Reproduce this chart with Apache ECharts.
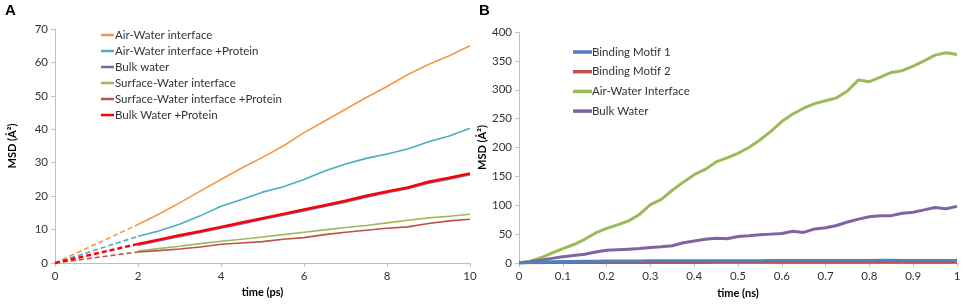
<!DOCTYPE html>
<html>
<head>
<meta charset="utf-8">
<script src="https://cdn.jsdelivr.net/npm/echarts@6/dist/echarts.min.js"></script>
<style>
html, body { margin: 0; padding: 0; background: #fff; }
#chart { width: 964px; height: 304px; }
</style>
</head>
<body>
<div id="chart"></div>
<script>
// ---- panel A: MSD vs time (ps) ----
var timeA = [2, 2.5, 3, 3.5, 4, 4.5, 5, 5.5, 6, 6.5, 7, 7.5, 8, 8.5, 9, 9.5, 10];
var airWater      = [11.5, 14.6, 18, 21.5, 25, 28.4, 31.6, 35, 39, 42.5, 46, 49.5, 52.8, 56.4, 59.4, 62, 65];
var airWaterProt  = [8, 9.6, 11.6, 14.1, 17, 19, 21.2, 22.8, 25, 27.5, 29.6, 31.3, 32.6, 34.1, 36.3, 38, 40.3];
var bulkWater     = [5.3, 6.6, 7.9, 9.1, 10.4, 11.7, 13, 14.3, 15.6, 16.9, 18.2, 19.7, 21, 22.2, 23.9, 25.1, 26.4];
var surfWater     = [3.6, 4.3, 5, 5.8, 6.5, 7.1, 7.8, 8.5, 9.2, 9.9, 10.6, 11.2, 12, 12.8, 13.5, 14, 14.6];
var surfWaterProt = [3.3, 3.7, 4.2, 4.8, 5.6, 6, 6.4, 7.1, 7.6, 8.5, 9.2, 9.8, 10.4, 10.8, 11.8, 12.6, 13.1];
var bulkWaterProt = [5.7, 7, 8.3, 9.5, 10.8, 12.1, 13.4, 14.7, 16, 17.3, 18.6, 20.1, 21.4, 22.6, 24.3, 25.5, 26.8];
var namesA = ['Air-Water interface', 'Air-Water interface +Protein', 'Bulk water',
              'Surface-Water interface', 'Surface-Water interface +Protein', 'Bulk Water +Protein'];
var colorsA = ['#F79646', '#4BACC6', '#8064A2', '#9BBB59', '#C0504D', '#FF0000'];

// ---- panel B: MSD vs time (ns) ----
var timeB = [0, 0.025, 0.05, 0.075, 0.1, 0.125, 0.15, 0.175, 0.2, 0.225, 0.25, 0.275, 0.3, 0.325,
             0.35, 0.375, 0.4, 0.425, 0.45, 0.475, 0.5, 0.525, 0.55, 0.575, 0.6, 0.625, 0.65, 0.675,
             0.7, 0.725, 0.75, 0.775, 0.8, 0.825, 0.85, 0.875, 0.9, 0.925, 0.95, 0.975, 1];
var motif1  = [0, 1, 1.6, 2, 2.4, 2.7, 3, 3.1, 3.3, 3.4, 3.5, 3.6, 3.7, 3.7, 3.8, 3.8, 3.9, 3.9, 4, 4, 4,
               4.1, 4.1, 4.2, 4.2, 4.3, 4.3, 4.4, 4.4, 4.4, 4.5, 4.5, 4.5, 4.6, 4.6, 4.5, 4.5, 4.4, 4.4, 4.3, 4.3];
var motif2  = [0, 0.4, 0.6, 0.7, 0.8, 0.8, 0.9, 0.9, 0.9, 1, 1, 1, 1, 1, 1, 1, 1, 1, 1.1, 1.1, 1.1,
               1.1, 1.1, 1.1, 1.1, 1.1, 1.1, 1.1, 1.1, 1.1, 1.1, 1.1, 1.1, 1.1, 1.1, 1.1, 1.1, 1.1, 1.1, 1.1, 1.1];
var airWaterB = [0, 3, 9, 17, 25, 32, 41, 52, 60, 66, 73, 84, 101, 110, 126, 140, 153, 162, 175, 182, 190,
                 200, 213, 228, 245, 258, 268, 276, 281, 286, 298, 317, 314, 322, 330, 333, 341, 350, 360, 364, 361];
var bulkWaterB = [0, 2, 5, 8, 11, 13, 15, 19, 22, 23, 24, 25, 27, 28, 30, 35, 38, 41, 43, 42, 46,
                  47, 49, 50, 51, 55, 53, 59, 61, 65, 71, 76, 80, 82, 82, 86, 88, 92, 96, 94, 98];
var namesB = ['Binding Motif 1', 'Binding Motif 2', 'Air-Water Interface', 'Bulk Water'];
var colorsB = ['#4F81BD', '#C0504D', '#9BBB59', '#8064A2'];

function pairs(xs, ys) {
    var out = [];
    for (var i = 0; i < xs.length; i++) out.push([xs[i], ys[i]]);
    return out;
}

var FONT = 'Lato';
var TXT = '#333333';
var AXIS = '#BFBFBF';

function axisCommon() {
    return {
        axisLine: { show: true, lineStyle: { color: AXIS, width: 1 } },
        axisTick: { show: true, length: 4, lineStyle: { color: AXIS } },
        axisLabel: { color: TXT, fontFamily: FONT, fontSize: 11.5, margin: 7 },
        splitLine: { show: false },
        nameTextStyle: { color: '#000', fontFamily: FONT, fontSize: 11, fontWeight: 'bold' }
    };
}

var seriesA = [airWater, airWaterProt, bulkWater, surfWater, surfWaterProt, bulkWaterProt];
var seriesBdata = [motif1, motif2, airWaterB, bulkWaterB];
var series = [];

// dashed lead-in from the origin to the first data point (2 ps)
[0, 1, 4, 5].forEach(function (k) {
    series.push({
        name: namesA[k] + ' (extrap)',
        type: 'line', xAxisIndex: 0, yAxisIndex: 0,
        symbol: 'none', silent: true,
        data: [[0, 0], [timeA[0], seriesA[k][0]]],
        lineStyle: { color: colorsA[k], width: k === 5 ? 2.5 : 1.6, type: [5, 3] },
        z: 2
    });
});
for (var k = 0; k < 6; k++) {
    series.push({
        name: namesA[k],
        type: 'line', xAxisIndex: 0, yAxisIndex: 0,
        symbol: 'none',
        data: pairs(timeA, seriesA[k]),
        color: colorsA[k],
        lineStyle: { color: colorsA[k], width: k === 5 ? 2.5 : 1.6 },
        z: 3
    });
}
for (k = 0; k < 4; k++) {
    series.push({
        name: namesB[k],
        type: 'line', xAxisIndex: 1, yAxisIndex: 1,
        symbol: 'none',
        data: pairs(timeB, seriesBdata[k]),
        color: colorsB[k],
        lineStyle: { color: colorsB[k], width: 3 },
        z: k < 2 ? 4 - k : 3
    });
}

var titleStyle = { fontFamily: 'Liberation Sans', fontSize: 15, fontWeight: 'bold', color: '#000' };

var option = {
    backgroundColor: '#fff',
    animation: false,
    title: [
        { text: 'A', left: 5, top: 3, padding: 0, textStyle: titleStyle },
        { text: 'B', left: 479, top: 3, padding: 0, textStyle: titleStyle }
    ],
    grid: [
        { left: 55, top: 29, width: 415, height: 234 },
        { left: 519, top: 32, width: 438, height: 231 }
    ],
    xAxis: [
        Object.assign(axisCommon(), {
            type: 'value', gridIndex: 0, min: 0, max: 10, interval: 2,
            name: 'time (ps)', nameLocation: 'middle', nameGap: 20
        }),
        Object.assign(axisCommon(), {
            type: 'value', gridIndex: 1, min: 0, max: 1, interval: 0.1,
            name: 'time (ns)', nameLocation: 'middle', nameGap: 25
        })
    ],
    yAxis: [
        Object.assign(axisCommon(), {
            type: 'value', gridIndex: 0, min: 0, max: 70, interval: 10,
            name: 'MSD (Å²)', nameLocation: 'middle', nameGap: 37
        }),
        Object.assign(axisCommon(), {
            type: 'value', gridIndex: 1, min: 0, max: 400, interval: 50,
            name: 'MSD (Å²)', nameLocation: 'middle', nameGap: 29
        })
    ],
    legend: [
        {
            data: namesA, orient: 'vertical', left: 96, top: 23, padding: 5,
            icon: 'rect', itemWidth: 13, itemHeight: 2.5, itemGap: 2,
            textStyle: { color: TXT, fontFamily: FONT, fontSize: 11.5, lineHeight: 14, padding: [0, 0, 0, -4] }
        },
        {
            data: namesB, orient: 'vertical', left: 568, top: 40, padding: 5,
            icon: 'rect', itemWidth: 19, itemHeight: 3.5, itemGap: 5.7,
            textStyle: { color: TXT, fontFamily: FONT, fontSize: 11.5, lineHeight: 14, padding: [0, 0, 0, -5] }
        }
    ],
    series: series
};

var chart = echarts.init(document.getElementById('chart'));
chart.setOption(option);
window.onresize = function () { chart.resize(); };
</script>
</body>
</html>
